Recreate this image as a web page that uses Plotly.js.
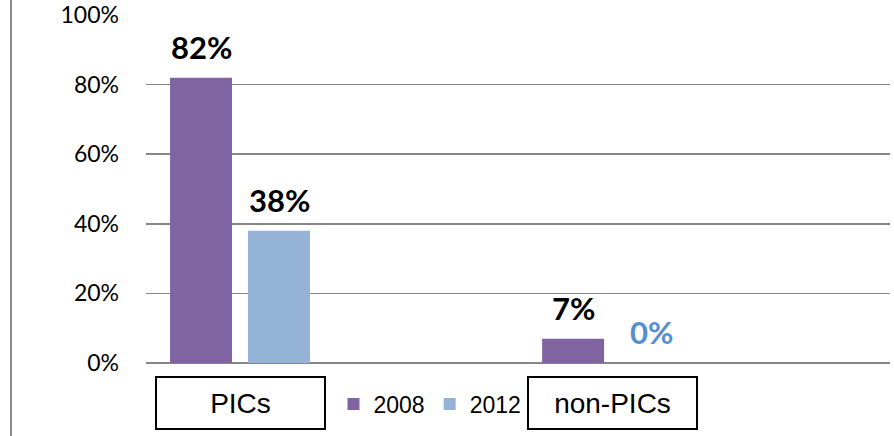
<!DOCTYPE html>
<html>
<head>
<meta charset="utf-8">
<script src="https://cdn.plot.ly/plotly-3.0.1.min.js"></script>
<style>
  html, body { margin: 0; padding: 0; background: #fff; }
  #wrap { position: relative; width: 894px; height: 436px; overflow: hidden; }
  #chart { width: 894px; height: 436px; }
  #edge { position: absolute; left: 10px; top: 0; width: 2px; height: 436px; background: #8a8a8a; }
</style>
</head>
<body>
<div id="wrap">
  <div id="chart"></div>
  <div id="edge"></div>
</div>
<script>
const categories = ["PICs", "non-PICs"];
const series2008 = [82, 7];
const series2012 = [38, 0];
const seriesNames = ["2008", "2012"];
const yTicks = [0, 20, 40, 60, 80, 100];
const yTickLabels = ["0%", "20%", "40%", "60%", "80%", "100%"];
const labelColors2008 = ["#000000", "#000000"];
const labelColors2012 = ["#000000", "#558ED5"];

const colors = ["#8064A2", "#95B3D7"];

const traces = [
  { type: "bar", name: seriesNames[0], x: categories, y: series2008,
    marker: { color: colors[0] }, hoverinfo: "none" },
  { type: "bar", name: seriesNames[1], x: categories, y: series2012,
    marker: { color: colors[1] }, hoverinfo: "none" }
];

const annotations = [];
categories.forEach((c, i) => {
  annotations.push({ x: c, y: series2008[i], xref: "x", yref: "y",
    text: "<b>" + series2008[i] + "%</b>", showarrow: false,
    xshift: -39, yshift: 31, yanchor: "middle",
    font: { family: "Lato, 'Open Sans', sans-serif", size: 31, color: labelColors2008[i] } });
  annotations.push({ x: c, y: series2012[i], xref: "x", yref: "y",
    text: "<b>" + series2012[i] + "%</b>", showarrow: false,
    xshift: 39, yshift: 31, yanchor: "middle",
    font: { family: "Lato, 'Open Sans', sans-serif", size: 31, color: labelColors2012[i] } });
  annotations.push({ x: c, y: -0.115, xref: "x", yref: "paper",
    text: c, showarrow: false, yanchor: "middle",
    width: 165, height: 48, borderwidth: 2, bordercolor: "#000", borderpad: 1,
    bgcolor: "#fff",
    font: { family: "'Liberation Sans', Arial, sans-serif", size: 28, color: "#000" } });
});

const layout = {
  width: 894, height: 436,
  margin: { l: 146, r: 4, t: 15, b: 73 },
  paper_bgcolor: "#fff", plot_bgcolor: "#fff",
  barmode: "group", bargap: 0.581, bargroupgap: 0.205,
  showlegend: true,
  legend: { orientation: "h", x: 0.252, xanchor: "left", y: -0.118, yanchor: "middle",
    font: { family: "'Liberation Sans', Arial, sans-serif", size: 23, color: "#000" },
    itemwidth: 30, tracegroupgap: 0, bgcolor: "rgba(0,0,0,0)" },
  xaxis: { type: "category", range: [-0.2527, 1.747], showticklabels: false,
    showgrid: false, zeroline: false, showline: false, ticks: "", fixedrange: true },
  yaxis: { range: [0, 100], tickvals: yTicks, ticktext: yTickLabels,
    showgrid: true, gridcolor: "#868686", gridwidth: 1.5,
    zeroline: true, zerolinecolor: "#868686", zerolinewidth: 1.5,
    showline: false, ticks: "", ticklen: 0,
    tickfont: { family: "Lato, 'Open Sans', sans-serif", size: 23, color: "#000" },
    ticklabelstandoff: 26, fixedrange: true },
  annotations: annotations
};

Plotly.newPlot("chart", traces, layout, { displayModeBar: false, staticPlot: true });
</script>
</body>
</html>
